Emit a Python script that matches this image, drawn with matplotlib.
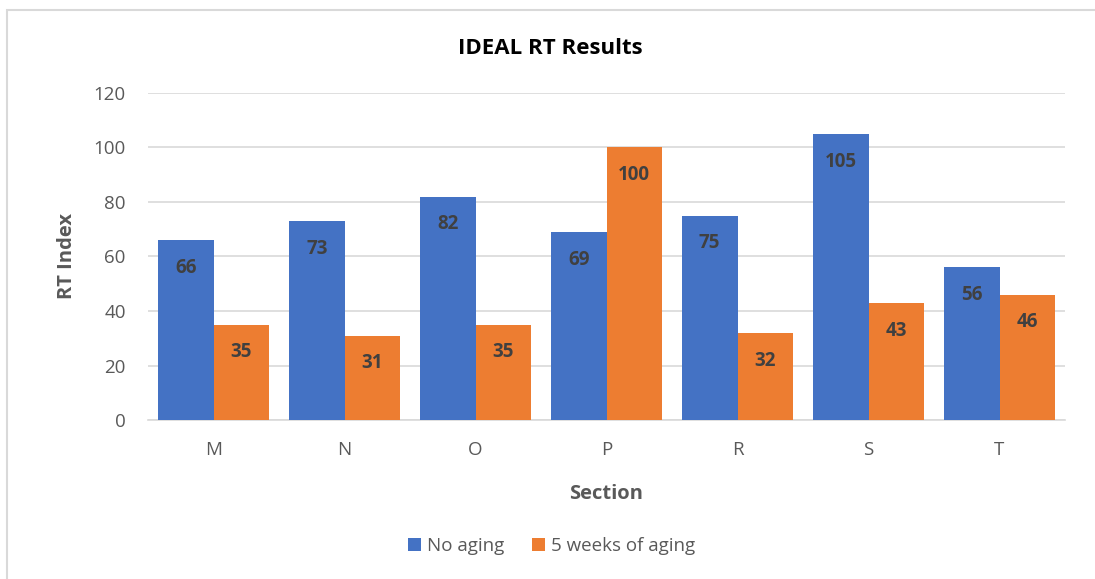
import matplotlib
matplotlib.use("Agg")
import matplotlib.pyplot as plt
import numpy as np

categories = ["M", "N", "O", "P", "R", "S", "T"]
no_aging = [66, 73, 82, 69, 75, 105, 56]
aging_5wk = [35, 31, 35, 100, 32, 43, 46]
series_names = ["No aging", "5 weeks of aging"]
yticks = [0, 20, 40, 60, 80, 100, 120]

plt.rcParams['font.family'] = ['Open Sans', 'DejaVu Sans']

fig = plt.figure(figsize=(10.95, 5.79), dpi=100)
ax = fig.add_axes([0.1352, 0.2746, 0.8374, 0.5648])

blue = "#4472C4"
orange = "#ED7D31"
x = np.arange(len(categories))
w = 0.424
b1 = ax.bar(x - w/2, no_aging, w, color=blue, label=series_names[0], zorder=3)
b2 = ax.bar(x + w/2, aging_5wk, w, color=orange, label=series_names[1], zorder=3)

for bars, vals in ((b1, no_aging), (b2, aging_5wk)):
    for r, v in zip(bars, vals):
        ax.annotate(str(v), (r.get_x() + r.get_width()/2, v), xytext=(0, -20),
                    textcoords="offset points", ha="center", va="center",
                    fontsize=13.5, fontweight="bold", color="#404040", zorder=4)

ax.set_xlim(-0.5, len(categories) - 0.5)
ax.set_ylim(0, 120)
ax.set_yticks(yticks)
ax.set_xticks(x)
ax.set_xticklabels(categories)
ax.grid(axis="y", color="#D9D9D9", linewidth=1.2, zorder=0)
for s in ["top", "right", "left"]:
    ax.spines[s].set_visible(False)
ax.spines["bottom"].set_color("#D9D9D9")
ax.spines["bottom"].set_linewidth(1.2)
ax.tick_params(axis="both", length=0, labelsize=13.5, labelcolor="#595959")
ax.tick_params(axis="x", pad=15)
ax.tick_params(axis="y", pad=16)

ax.set_xlabel("Section", fontsize=14.5, fontweight="bold", color="#595959", labelpad=18)
ax.set_ylabel("RT Index", fontsize=14.5, fontweight="bold", color="#595959", labelpad=12)
fig.text(0.503, 0.917, "IDEAL RT Results", ha="center", va="center",
         fontsize=16, fontweight="bold", color="#000000")

ax.legend(loc="center", bbox_to_anchor=(0.5035, 0.057), bbox_transform=fig.transFigure,
          ncol=2, frameon=False, fontsize=13.5, labelcolor="#595959",
          handlelength=0.7, handleheight=0.7, handletextpad=0.3, columnspacing=1.5)

border = plt.Rectangle((0.0064, -0.02), 1.2, 1.0 - 0.0173 + 0.02, transform=fig.transFigure,
                       fill=False, edgecolor="#D9D9D9", linewidth=1.5, clip_on=False)
fig.patches.append(border)

fig.savefig("out.png", dpi=100)
